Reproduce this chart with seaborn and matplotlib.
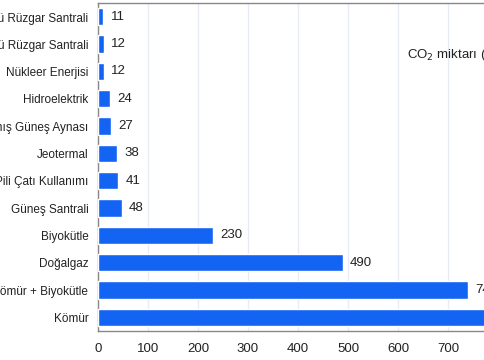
import pandas as pd
import matplotlib.pyplot as plt
import seaborn as sns
from matplotlib import font_manager

# Data
kaynaklar = ["Kara Üstü Rüzgar Santrali", "Deniz Üstü Rüzgar Santrali", "Nükleer Enerjisi",
             "Hidroelektrik", "Yoğunlaştırılmış Güneş Aynası", "Jeotermal",
             "Güneş Pili Çatı Kullanımı", "Güneş Santrali", "Biyokütle", "Doğalgaz",
             "Kömür + Biyokütle", "Kömür"]
co2 = [11, 12, 12, 24, 27, 38, 41, 48, 230, 490, 740, 820]
xticks = [0, 100, 200, 300, 400, 500, 600, 700, 800]

df = pd.DataFrame({"Kaynak": kaynaklar, "CO2": co2})

sns.set_style("white")
names = {f.name for f in font_manager.fontManager.ttflist}
if "Liberation Sans Narrow" in names:
    plt.rcParams['font.family'] = ['Liberation Sans Narrow', 'DejaVu Sans']
    fs, fn = 9.5, 10.5
else:
    plt.rcParams['font.family'] = ['Liberation Sans', 'DejaVu Sans']
    fs, fn = 8.5, 9.5

fig = plt.figure(figsize=(4.85, 3.6), dpi=100)
ax = fig.add_axes([98 / 485, 29 / 360, 450 / 485, 328 / 360])

sns.barplot(data=df, y="Kaynak", x="CO2", orient="h", color="#1464f4",
            width=0.63, saturation=1, ax=ax, zorder=3)

ax.set_xlim(0, 900)
ax.set_xticks(xticks)
ax.grid(axis="x", color="#e6ebf4", linewidth=1, zorder=0)
ax.set_xlabel("")
ax.set_ylabel("")
ax.tick_params(axis="both", length=0, colors="#222222")
ax.tick_params(axis="x", pad=9, labelsize=fn)
ax.tick_params(axis="y", pad=7, labelsize=fs)

for side in ["left", "bottom", "top"]:
    ax.spines[side].set_color("#888888")
    ax.spines[side].set_linewidth(1)
ax.spines["right"].set_visible(False)

# value labels
for i, v in enumerate(co2):
    ax.text(v + 14, i, str(v), va="center", ha="left", fontsize=fn, color="#222222")

# legend text
ax.text(618, 1.4, "CO$_2$ miktarı (g/kWh)", fontsize=fn, color="#222222",
        va="center", ha="left")

fig.savefig("out.png", dpi=100)
